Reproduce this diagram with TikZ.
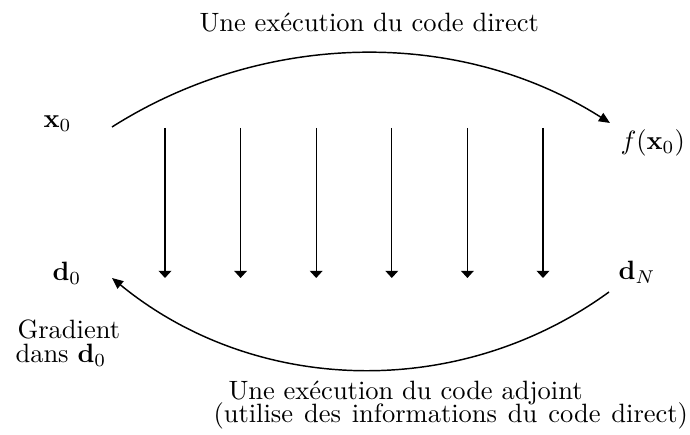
\documentclass[tikz,border=0pt]{standalone}
\usetikzlibrary{arrows.meta}
\begin{document}
\begin{tikzpicture}[x=0.3774pt,y=-0.3774pt,
  lbl/.style={inner sep=0pt,anchor=base west},
  vline/.style={line width=0.5pt,-{Triangle[length=2.7pt,width=4.8pt]}},
  arcline/.style={line width=0.55pt,-{Triangle[length=4.2pt,width=3.6pt]}}]
\useasboundingbox (0,0) rectangle (690,435);
% labels
\node[lbl] (title) at (199,32) {Une exécution du code direct};
\node[lbl] (x0) at (43,128) {$\mathbf{x}_0$};
\node[lbl] (fx0) at (620,150) {$f(\mathbf{x}_0)$};
\node[lbl] (d0) at (52,281) {$\mathbf{d}_0$};
\node[lbl] (dN) at (618,280) {$\mathbf{d}_N$};
\node[lbl] (grad1) at (17,339) {Gradient};
\node[lbl] (grad2) at (15,363) {dans $\mathbf{d}_0$};
\node[lbl] (adj1) at (228,400) {Une exécution du code adjoint};
\node[lbl] (adj2) at (213,423) {\spaceskip=4.1pt (utilise des informations du code direct)};
% arc end points
\coordinate (topS) at (112,127);
\coordinate (topE) at (610,123);
\coordinate (botS) at (609,292);
\coordinate (botE) at (112,278);
\draw[arcline] (topS) .. controls (263.4,31) and (458.6,27) .. (topE);
\draw[arcline] (botS) .. controls (459.4,400.9) and (255.2,395.3) .. (botE);
% vertical arrows
\foreach \i/\xx in {1/165,2/240.6,3/316.2,4/391.8,5/467.4,6/543}{
  \coordinate (vt\i) at (\xx,128);
  \coordinate (vb\i) at (\xx,278);
  \draw[vline] (vt\i) -- (vb\i);
}
\end{tikzpicture}
\end{document}
